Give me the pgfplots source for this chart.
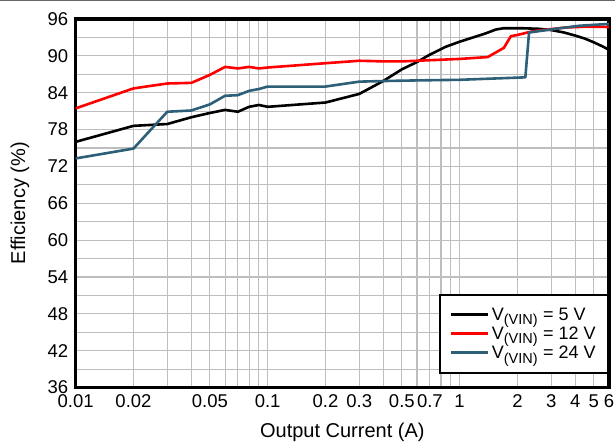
\documentclass[border=0pt]{standalone}
\usepackage{fontspec}
\setmainfont{Liberation Sans}
\usepackage{pgfplots}
\pgfplotsset{compat=1.18}
\definecolor{vblue}{RGB}{45,96,120}
\definecolor{gridgray}{RGB}{190,190,190}
\newcommand{\vsub}{V\textsubscript{\fontsize{14.5}{16}\selectfont (VIN)}}
\begin{document}
\begin{tikzpicture}
\useasboundingbox (-75.7pt,-57.5pt) rectangle (539.3pt,387.5pt);
\draw[gray!80!black, line width=1.5pt] (-75.7pt,386.8pt) -- (539.3pt,386.8pt);
\begin{axis}[
  at={(0pt,0pt)}, anchor=south west,
  scale only axis, width=533.3pt, height=368.5pt,
  xmode=log, xmin=0.01, xmax=6,
  ymin=36, ymax=96,
  xtick={0.01,0.02,0.05,0.1,0.2,0.3,0.5,0.7,1,2,3,4,5,6},
  xticklabels={0.01,0.02,0.05,0.1,0.2,0.3,0.5,0.7,1,2,3,4,5,6},
  minor xtick={0.03,0.04,0.06,0.07,0.08,0.09,0.4,0.6,0.8,0.9},
  ytick={36,42,48,54,60,66,72,78,84,90,96},
  minor ytick={39,45,51,57,63,69,75,81,87,93},
  grid=both,
  major grid style={gridgray, line width=1.1pt},
  minor grid style={gridgray, line width=1.1pt},
  major tick length=0pt, minor tick length=0pt,
  axis line style={line width=3.5pt},
  /pgf/number format/assume math mode=true,
  tick label style={font=\fontsize{18.5}{21}\selectfont},
  xticklabel style={yshift=-4pt},
  yticklabel style={xshift=-4pt},
  xlabel={Output Current (A)},
  ylabel={Efficiency (\%)},
  label style={font=\fontsize{20}{23}\selectfont},
  xlabel style={at={(axis description cs:0.5,-0.1208)}, anchor=center},
  ylabel style={at={(axis description cs:-0.1044,0.5)}, anchor=center},
  legend style={at={(1,0.036)}, anchor=south east, draw=black, line width=2.5pt,
    font=\fontsize{18}{21}\selectfont, inner xsep=10pt, inner ysep=11pt, row sep=1pt},
  legend cell align=left,
  legend image code/.code={\draw[#1, line width=3pt] (0pt,0pt) -- (37pt,0pt);},
  every axis plot/.append style={line width=2.6pt, line join=round},
]
\addplot[black] coordinates {
(0.01,76.0) (0.02,78.6) (0.03,78.9) (0.04,80.0) (0.05,80.7) (0.06,81.2) (0.07,80.9)
(0.08,81.7) (0.09,82.0) (0.1,81.7) (0.2,82.4) (0.3,83.8) (0.4,85.9) (0.5,87.8)
(0.6,89.0) (0.7,90.2) (0.85,91.5) (1.0,92.3) (1.35,93.6) (1.55,94.3) (1.7,94.5)
(2.1,94.5) (2.6,94.4) (3.0,94.2) (3.5,93.8) (4.0,93.3) (4.5,92.8) (5.0,92.2)
(5.5,91.6) (6.0,91.0)};
\addlegendentry{\vsub{} = 5 V}
\addplot[red] coordinates {
(0.01,81.45) (0.02,84.7) (0.03,85.5) (0.04,85.6) (0.05,86.9) (0.06,88.2) (0.07,87.95)
(0.08,88.2) (0.09,87.95) (0.1,88.1) (0.2,88.8) (0.3,89.2) (0.4,89.1) (0.5,89.1)
(0.6,89.2) (1.0,89.5) (1.4,89.8) (1.7,91.3) (1.85,93.2) (2.0,93.4) (2.4,94.0)
(3.5,94.6) (4.5,94.75) (6.0,94.7)};
\addlegendentry{\vsub{} = 12 V}
\addplot[vblue] coordinates {
(0.01,73.3) (0.02,74.9) (0.03,80.9) (0.04,81.1) (0.05,82.1) (0.06,83.5) (0.07,83.6)
(0.08,84.3) (0.09,84.6) (0.1,85.0) (0.2,85.0) (0.3,85.8) (0.4,85.9) (0.6,86.0)
(1.0,86.1) (2.2,86.5) (2.3,93.8) (3.0,94.3) (4.2,94.9) (6.0,95.2)};
\addlegendentry{\vsub{} = 24 V}
\end{axis}
\end{tikzpicture}
\end{document}
